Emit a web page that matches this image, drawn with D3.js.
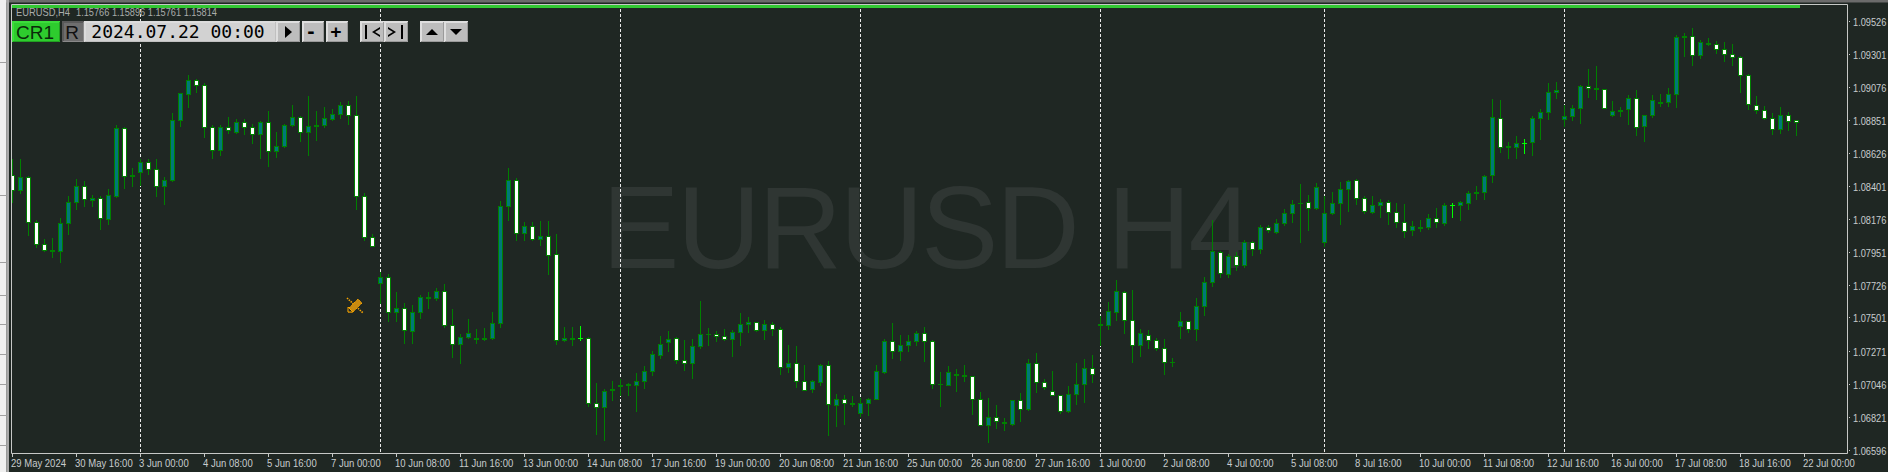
<!DOCTYPE html>
<html><head><meta charset="utf-8">
<script src="https://cdn.jsdelivr.net/npm/d3@7/dist/d3.min.js"></script>
<style>html,body{margin:0;padding:0;background:#1f2723;overflow:hidden}svg{display:block}</style>
</head><body><svg id="c" width="1888" height="472"></svg>
<script>
const opens=[1.08472,1.08372,1.08459,1.08154,1.08003,1.07958,1.07953,1.08144,1.08290,1.08397,
1.08301,1.08315,1.08172,1.08329,1.08795,1.08470,1.08493,1.08561,1.08513,1.08397,
1.08438,1.08848,1.09025,1.09123,1.09089,1.08802,1.08643,1.08800,1.08770,1.08834,
1.08800,1.08752,1.08836,1.08636,1.08670,1.08816,1.08871,1.08766,1.08809,1.08816,
1.08857,1.08891,1.08950,1.08882,1.08329,1.08051,1.07735,1.07776,1.07539,1.07564,
1.07409,1.07539,1.07634,1.07632,1.07680,1.07448,1.07318,1.07366,1.07357,1.07357,
1.07359,1.07461,1.08261,1.08440,1.08078,1.08124,1.08035,1.08056,1.07933,1.07345,
1.07357,1.07359,1.07359,1.06915,1.06888,1.07006,1.07034,1.07040,1.07038,1.07065,
1.07134,1.07243,1.07332,1.07359,1.07209,1.07191,1.07304,1.07386,1.07386,1.07373,
1.07352,1.07400,1.07455,1.07468,1.07414,1.07455,1.07420,1.07161,1.07188,1.07065,
1.07011,1.07061,1.07175,1.06901,1.06942,1.06911,1.06847,1.06915,1.06942,1.07127,
1.07339,1.07270,1.07314,1.07339,1.07393,1.07339,1.07045,1.07043,1.07109,1.07102,
1.07100,1.06942,1.06765,1.06820,1.06781,1.06776,1.06936,1.06874,1.07188,1.07059,
1.06997,1.06970,1.06861,1.06977,1.07047,1.07154,1.07452,1.07452,1.07539,1.07673,
1.07482,1.07314,1.07380,1.07345,1.07291,1.07195,1.07441,1.07475,1.07423,1.07578,
1.07741,1.07951,1.07796,1.07919,1.07858,1.08015,1.07967,1.08117,1.08083,1.08147,
1.08213,1.08281,1.08288,1.08247,1.08015,1.08215,1.08283,1.08377,1.08440,1.08315,
1.08220,1.08270,1.08290,1.08220,1.08151,1.08097,1.08113,1.08117,1.08179,1.08144,
1.08270,1.08267,1.08281,1.08354,1.08356,1.08472,1.08864,1.08668,1.08668,1.08693,
1.08698,1.08862,1.08902,1.09039,1.08855,1.08875,1.08930,1.09080,1.09062,1.09060,
1.08882,1.08914,1.08923,1.08998,1.08807,1.08882,1.08969,1.08971,1.09025,1.09417,
1.09422,1.09292,1.09369,1.09367,1.09333,1.09299,1.09278,1.09157,1.08950,1.08916,
1.08862,1.08786,1.08882,1.08848];
const closes=[1.08374,1.08461,1.08154,1.08003,1.07962,1.07962,1.08147,1.08290,1.08399,1.08311,
1.08317,1.08181,1.08338,1.08795,1.08468,1.08475,1.08563,1.08516,1.08399,1.08440,
1.08850,1.09035,1.09123,1.09089,1.08802,1.08645,1.08802,1.08782,1.08836,1.08802,
1.08752,1.08836,1.08638,1.08673,1.08816,1.08871,1.08768,1.08809,1.08814,1.08864,
1.08891,1.08953,1.08884,1.08329,1.08051,1.07990,1.07778,1.07539,1.07566,1.07416,
1.07539,1.07641,1.07639,1.07682,1.07450,1.07320,1.07368,1.07395,1.07361,1.07361,
1.07464,1.08263,1.08440,1.08081,1.08126,1.08037,1.08058,1.07928,1.07348,1.07361,
1.07361,1.07359,1.06917,1.06888,1.06997,1.07011,1.07038,1.07045,1.07068,1.07136,
1.07252,1.07320,1.07355,1.07209,1.07191,1.07304,1.07389,1.07391,1.07375,1.07355,
1.07402,1.07457,1.07471,1.07416,1.07457,1.07423,1.07163,1.07191,1.07068,1.07006,
1.07068,1.07177,1.06913,1.06945,1.06917,1.06915,1.06915,1.06942,1.07136,1.07339,
1.07273,1.07314,1.07339,1.07393,1.07341,1.07047,1.07050,1.07127,1.07113,1.07106,
1.06945,1.06767,1.06822,1.06795,1.06785,1.06938,1.06877,1.07191,1.07061,1.07027,
1.06972,1.06861,1.06979,1.07047,1.07154,1.07115,1.07457,1.07544,1.07682,1.07484,
1.07314,1.07395,1.07350,1.07291,1.07197,1.07200,1.07475,1.07423,1.07580,1.07744,
1.07955,1.07805,1.07921,1.07860,1.08017,1.07969,1.08119,1.08099,1.08147,1.08215,
1.08276,1.08286,1.08249,1.08393,1.08215,1.08283,1.08379,1.08434,1.08317,1.08229,
1.08270,1.08290,1.08222,1.08154,1.08094,1.08126,1.08117,1.08179,1.08154,1.08267,
1.08270,1.08290,1.08352,1.08358,1.08468,1.08871,1.08663,1.08673,1.08693,1.08693,
1.08864,1.08905,1.09041,1.09055,1.08877,1.08932,1.09082,1.09069,1.09066,1.08932,
1.08912,1.08918,1.09000,1.08802,1.08882,1.08987,1.08973,1.09028,1.09417,1.09422,
1.09294,1.09383,1.09374,1.09333,1.09301,1.09280,1.09157,1.08957,1.08916,1.08862,
1.08789,1.08884,1.08843,1.08834];
const highs=[1.08584,1.08584,1.08470,1.08170,1.08037,1.08047,1.08181,1.08329,1.08447,1.08434,
1.08340,1.08329,1.08379,1.08816,1.08802,1.08522,1.08584,1.08584,1.08584,1.08459,
1.08898,1.09035,1.09157,1.09130,1.09103,1.08816,1.08816,1.08873,1.08857,1.08859,
1.08823,1.08843,1.08912,1.08768,1.08823,1.08953,1.08877,1.09014,1.08912,1.08939,
1.08925,1.08973,1.08980,1.09014,1.08352,1.08072,1.07812,1.07798,1.07678,1.07603,
1.07587,1.07655,1.07675,1.07703,1.07732,1.07559,1.07391,1.07491,1.07423,1.07432,
1.07541,1.08299,1.08525,1.08454,1.08156,1.08156,1.08163,1.08163,1.08074,1.07439,
1.07434,1.07446,1.07371,1.07054,1.07015,1.07068,1.07081,1.07054,1.07122,1.07172,
1.07273,1.07377,1.07411,1.07368,1.07350,1.07352,1.07616,1.07432,1.07409,1.07423,
1.07414,1.07532,1.07505,1.07471,1.07484,1.07473,1.07436,1.07314,1.07307,1.07179,
1.07077,1.07186,1.07207,1.06981,1.06972,1.06965,1.06952,1.06952,1.07179,1.07355,
1.07464,1.07382,1.07380,1.07407,1.07436,1.07350,1.07129,1.07170,1.07150,1.07177,
1.07102,1.06993,1.06952,1.06904,1.06815,1.06940,1.06986,1.07218,1.07259,1.07081,
1.07136,1.06974,1.07036,1.07191,1.07218,1.07247,1.07509,1.07607,1.07760,1.07682,
1.07691,1.07423,1.07416,1.07361,1.07355,1.07225,1.07539,1.07480,1.07634,1.07780,
1.08170,1.07955,1.07935,1.07949,1.08033,1.08022,1.08133,1.08133,1.08174,1.08242,
1.08306,1.08415,1.08340,1.08422,1.08329,1.08358,1.08427,1.08443,1.08447,1.08329,
1.08333,1.08313,1.08301,1.08286,1.08279,1.08163,1.08170,1.08208,1.08249,1.08283,
1.08283,1.08295,1.08365,1.08402,1.08475,1.08996,1.08989,1.08700,1.08743,1.08723,
1.08875,1.08928,1.09105,1.09112,1.08953,1.08953,1.09091,1.09198,1.09221,1.09062,
1.08980,1.08939,1.09021,1.09057,1.08887,1.09023,1.09030,1.09069,1.09431,1.09444,
1.09478,1.09399,1.09412,1.09390,1.09385,1.09369,1.09287,1.09164,1.09014,1.08946,
1.08898,1.08939,1.08905,1.08850];
const lows=[1.08288,1.08349,1.08067,1.07985,1.07953,1.07917,1.07878,1.08074,1.08245,1.08265,
1.08261,1.08108,1.08142,1.08325,1.08388,1.08402,1.08406,1.08484,1.08329,1.08274,
1.08434,1.08807,1.08941,1.09044,1.08736,1.08588,1.08613,1.08764,1.08764,1.08757,
1.08693,1.08593,1.08538,1.08600,1.08663,1.08811,1.08709,1.08613,1.08716,1.08805,
1.08848,1.08866,1.08825,1.08240,1.08028,1.07987,1.07598,1.07475,1.07475,1.07325,
1.07325,1.07496,1.07564,1.07619,1.07436,1.07234,1.07188,1.07359,1.07325,1.07345,
1.07352,1.07434,1.08165,1.08033,1.08033,1.08028,1.07999,1.07801,1.07323,1.07343,
1.07316,1.07345,1.06895,1.06708,1.06667,1.06940,1.06974,1.06974,1.06861,1.07018,
1.07111,1.07227,1.07275,1.07193,1.07145,1.07090,1.07295,1.07316,1.07343,1.07350,
1.07241,1.07316,1.07400,1.07411,1.07357,1.07384,1.07118,1.07127,1.07029,1.07004,
1.06995,1.07040,1.06701,1.06763,1.06776,1.06895,1.06831,1.06833,1.06942,1.07125,
1.07227,1.07213,1.07270,1.07316,1.07202,1.07018,1.06899,1.07038,1.07002,1.07070,
1.06845,1.06765,1.06653,1.06744,1.06735,1.06770,1.06797,1.06867,1.06995,1.07011,
1.06970,1.06849,1.06854,1.06913,1.06922,1.07059,1.07311,1.07425,1.07487,1.07393,
1.07195,1.07236,1.07295,1.07277,1.07113,1.07168,1.07364,1.07400,1.07350,1.07521,
1.07714,1.07776,1.07776,1.07828,1.07844,1.07930,1.07940,1.08083,1.08081,1.08131,
1.08156,1.08019,1.08101,1.08245,1.07992,1.08208,1.08142,1.08231,1.08279,1.08213,
1.08217,1.08185,1.08142,1.08117,1.08049,1.08062,1.08090,1.08106,1.08119,1.08131,
1.08190,1.08170,1.08245,1.08313,1.08313,1.08424,1.08634,1.08593,1.08593,1.08625,
1.08613,1.08723,1.08859,1.09003,1.08807,1.08852,1.08832,1.09009,1.08996,1.08930,
1.08880,1.08880,1.08825,1.08750,1.08709,1.08871,1.08948,1.08948,1.08941,1.09285,
1.09228,1.09276,1.09360,1.09308,1.09255,1.09228,1.09044,1.08928,1.08900,1.08855,
1.08757,1.08764,1.08784,1.08750];
const priceTicks=[1.09526,1.09301,1.09076,1.08851,1.08626,1.08401,1.08176,1.07951,1.07726,1.07501,1.07271,1.07046,1.06821,1.06596];
const timeLabels=["29 May 2024","30 May 16:00","3 Jun 00:00","4 Jun 08:00","5 Jun 16:00","7 Jun 00:00","10 Jun 08:00","11 Jun 16:00","13 Jun 00:00","14 Jun 08:00","17 Jun 16:00","19 Jun 00:00","20 Jun 08:00","21 Jun 16:00","25 Jun 00:00","26 Jun 08:00","27 Jun 16:00","1 Jul 00:00","2 Jul 08:00","4 Jul 00:00","5 Jul 08:00","8 Jul 16:00","10 Jul 00:00","11 Jul 08:00","12 Jul 16:00","16 Jul 00:00","17 Jul 08:00","18 Jul 16:00","22 Jul 00:00"];
const weekStarts=[16,46,76,106,136,164,194];
const sideLines=[62,195,262,295,324,354,384,415,445];

const svg=d3.select("#c");
const BG="#1f2723",FRAME="#c6c8c6",AXIS="#c8ccce",GREEN="#008000",TEAL="#007878",LIME="#00ff00";
const F={l:12,t:5,r:1847,b:453};
const x=d3.scaleLinear().domain([0,224]).range([12.5,1804.5]);
const y=d3.scaleLinear().domain([1.09526,1.06596]).range([21.5,450.5]);
const yp=v=>Math.round(y(v)-0.5)+0.5;
const FONT="'Liberation Sans',Tahoma,sans-serif";
const squeeze=(sel,k)=>sel.each(function(){this.setAttribute("lengthAdjust","spacingAndGlyphs");this.setAttribute("textLength",(this.getComputedTextLength()*k).toFixed(1));});

svg.append("rect").attr("width",1888).attr("height",472).attr("fill",BG);
// window chrome
svg.append("rect").attr("width",1888).attr("height",2.5).attr("fill","#6b6b6b");
svg.append("rect").attr("x",0).attr("y",0).attr("width",6.5).attr("height",472).attr("fill","#f0f0f0");
svg.append("rect").attr("x",6.5).attr("y",0).attr("width",2.5).attr("height",472).attr("fill","#a9a9a9");
svg.append("g").selectAll("line").data(sideLines).join("line").attr("x1",0).attr("x2",6.5).attr("y1",d=>d+.5).attr("y2",d=>d+.5).attr("stroke","#a0a0a0");

// watermark
svg.append("text").attr("x",602).attr("y",268).attr("font-family","'Liberation Sans',Arial,sans-serif").attr("font-size",116).attr("fill","#2f3633").attr("textLength",651).text("EURUSD H4");

// week separators
svg.append("g").selectAll("line").data(weekStarts).join("line")
 .attr("x1",d=>x(d)).attr("x2",d=>x(d)).attr("y1",9).attr("y2",F.b)
 .attr("stroke","#e8e8e8").attr("stroke-dasharray","3,2");

// candles
svg.append("clipPath").attr("id","pl").append("rect").attr("x",F.l).attr("y",F.t).attr("width",F.r-F.l).attr("height",F.b-F.t);
const g=svg.append("g").attr("clip-path","url(#pl)");
const idx=d3.range(opens.length);
const col=i=>opens[i]===closes[i]?LIME:GREEN;
g.selectAll("line.w").data(idx).join("line").attr("class","w")
 .attr("x1",x).attr("x2",x).attr("y1",i=>yp(highs[i])-.5).attr("y2",i=>yp(lows[i])+.5)
 .attr("stroke",col);
g.selectAll("rect.b").data(idx.filter(i=>opens[i]!==closes[i])).join("rect").attr("class","b")
 .attr("x",i=>x(i)-2).attr("width",4)
 .attr("y",i=>yp(Math.max(opens[i],closes[i])))
 .attr("height",i=>Math.max(0.01,yp(Math.min(opens[i],closes[i]))-yp(Math.max(opens[i],closes[i]))))
 .attr("fill",i=>opens[i]>closes[i]?"#ffffff":TEAL).attr("stroke",GREEN);
g.selectAll("line.d").data(idx.filter(i=>opens[i]===closes[i])).join("line").attr("class","d")
 .attr("x1",i=>x(i)-2.5).attr("x2",i=>x(i)+2.5).attr("y1",i=>yp(opens[i])).attr("y2",i=>yp(opens[i])).attr("stroke",LIME);

// progress bar
svg.append("rect").attr("x",F.l).attr("y",5).attr("width",1788).attr("height",3).attr("fill","#33c933");

// frame
svg.append("path").attr("fill","none").attr("stroke",FRAME).attr("d",`M${F.l-.5} ${F.t-.5}H${F.r+.5}V${F.b+.5}H${F.l-.5}Z`);

// axes
const xA=svg.append("g");
xA.selectAll("line").data(timeLabels).join("line").attr("x1",(d,i)=>x(i*8)).attr("x2",(d,i)=>x(i*8)).attr("y1",F.b).attr("y2",F.b+4).attr("stroke",FRAME);
xA.selectAll("text").data(timeLabels).join("text").attr("x",(d,i)=>x(i*8)-1.5).attr("y",467).attr("fill",AXIS).attr("font-family",FONT).attr("font-size",11).text(d=>d).call(squeeze,0.865);
const yA=svg.append("g");
yA.selectAll("rect").data(priceTicks).join("rect").attr("x",F.r+2).attr("y",d=>yp(d)-.5).attr("width",1).attr("height",1).attr("fill",FRAME);
yA.selectAll("text").data(priceTicks).join("text").attr("x",1853).attr("y",d=>yp(d)+4).attr("fill",AXIS).attr("font-family",FONT).attr("font-size",11).text(d=>d.toFixed(5)).call(squeeze,0.84);

// header
svg.append("text").attr("x",16).attr("y",16).attr("fill","#a9adab").attr("font-family",FONT).attr("font-size",11).attr("textLength",54).attr("lengthAdjust","spacingAndGlyphs").text("EURUSD,H4");
svg.append("text").attr("x",76).attr("y",16).attr("fill","#a9adab").attr("font-family",FONT).attr("font-size",11).attr("textLength",141).attr("lengthAdjust","spacingAndGlyphs").text("1.15766 1.15896 1.15761 1.15814");

// panel
const MONO="'DejaVu Sans Mono',monospace";
function btn(x0,w,fill,light,dark){
 const b=svg.append("g");
 b.append("rect").attr("x",x0).attr("y",21).attr("width",w).attr("height",21).attr("fill",fill);
 b.append("path").attr("fill","none").attr("stroke",light).attr("stroke-width",2).attr("d",`M${x0+1} 42V22H${x0+w}`);
 b.append("path").attr("fill","none").attr("stroke",dark).attr("stroke-width",1).attr("d",`M${x0+w-.5} 22V41.5H${x0+1}`);
}
btn(12,48,"#2ecc2e","#3bdc3b","#22a022");
btn(62,22,"#6e6e6e","#5a5a5a","#8a8a8a");
btn(84,192,"#d2d2d2","#dcdcdc","#c0c0c0");
[[276,24],[302,22],[326,22],[360,24],[384,24],[420,24],[444,24]].forEach(b=>btn(b[0],b[1],"#bdbdbd","#dedede","#9a9a9a"));
const T=(x,y,s,fs,f)=>svg.append("text").attr("x",x).attr("y",y).attr("text-anchor","middle").attr("font-family",f||MONO).attr("font-size",fs).attr("fill","#000").text(s);
T(35,39,"CR1",19,"'Liberation Sans',sans-serif").attr("fill","#0a2a0a");
T(72,39,"R",19,"'Liberation Sans',sans-serif").attr("fill","#111");
T(178,38,"2024.07.22 00:00",18);
T(311,38,"-",18).attr("font-weight","bold");
T(336,38,"+",18).attr("font-weight","bold");
const P=(d,f)=>svg.append("path").attr("d",d).attr("fill",f||"#000");
P("M285 26L292 32L285 38Z");
P("M365 25h2v14h-2zM380 27L372 32L380 37V35L375 32L380 29Z");
P("M388 27L396 32L388 37V35L393 32L388 29ZM401 25h2v14h-2z");
P("M426 35L432 29L438 35Z");
P("M450 29H462L456 35Z");

// pencil icon
const pen=svg.append("g").attr("fill","none");
pen.append("path").attr("d","M347 298L363 313").attr("stroke","#f5a300").attr("stroke-width",1.6).attr("stroke-dasharray","1.5,1");
pen.append("path").attr("d","M349 308L358 299L362 303L353 312H348Z").attr("fill","#c98a10").attr("stroke","#f5a300").attr("stroke-dasharray","1.5,.8");
pen.append("path").attr("d","M348 307V312H353Z").attr("fill",BG).attr("stroke","#f5a300");
</script></body></html>
